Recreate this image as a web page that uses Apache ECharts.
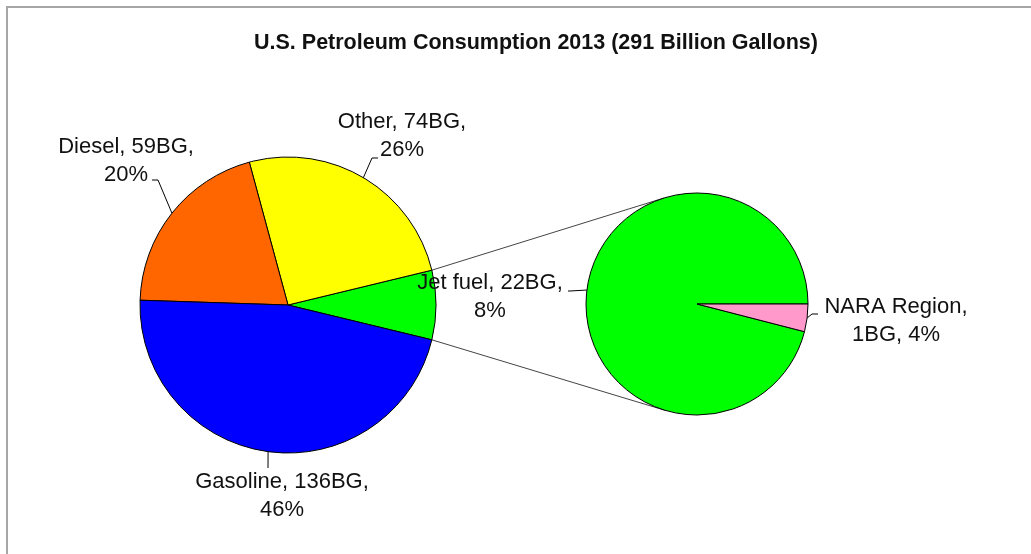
<!DOCTYPE html>
<html><head><meta charset="utf-8">
<script src="https://cdn.jsdelivr.net/npm/echarts@6/dist/echarts.min.js"></script>
<style>html,body{margin:0;padding:0;background:#fff}#chart{width:1031px;height:554px}</style>
</head><body><div id="chart"></div>
<script>
// ---- data ----
const titleText = 'U.S. Petroleum Consumption 2013 (291 Billion Gallons)';
const mainNames = ['Jet fuel', 'Other', 'Diesel', 'Gasoline'];
const mainValues = [22, 74, 59, 136];
const mainLabels = ['', 'Other, 74BG,\n26%', 'Diesel, 59BG,\n20%', 'Gasoline, 136BG,\n46%'];
const subNames = ['Jet fuel', 'NARA Region'];
const subValues = [22, 0.92];
const subLabels = ['Jet fuel, 22BG,\n8%', 'NARA Region,\n1BG, 4%'];

// ---- style / layout ----
const mainColors = ['#00FF00', '#FFFF00', '#FF6600', '#0000FF'];
const subColors = ['#00FF00', '#FF99CC'];
const MAIN = {cx: 288, cy: 305, r: 148};
const SUB = {cx: 697, cy: 304, r: 111};
const FONT = '"Liberation Sans", Arial, Helvetica, sans-serif';
// label block centers and leader-line points near the label
const mainLabelPos = [null, [402, 136], [126, 161], [282, 496]];
const mainLeader = [null, [[372, 158], [378, 158]], [[158, 180], [152, 180]], [[268, 468], [268, 468]]];
const subLabelPos = [[490, 297], [896, 321]];
const subLeader = [[[570, 291], [568, 291]], [[812, 314], [818, 314]]];

const sum = a => a.reduce((s, v) => s + v, 0);
const mainStart = -mainValues[0] / sum(mainValues) * 180;
const subStart = 0;
function midAngles(values, start) {
  const tot = sum(values); let a = start;
  return values.map(v => { const span = v / tot * 360; const m = a + span / 2; a += span; return m; });
}
function edgePt(c, deg) {
  const t = deg * Math.PI / 180;
  return [c.cx + c.r * Math.cos(t), c.cy - c.r * Math.sin(t)];
}
const mainMid = midAngles(mainValues, mainStart);
const subMid = midAngles(subValues, subStart);

// connector (series) lines from split slice edges to tangents of second pie
function tangent(P, C, upper) {
  const dx = P[0] - C.cx, dy = P[1] - C.cy;
  const d = Math.sqrt(dx * dx + dy * dy);
  const th = Math.atan2(dy, dx), al = Math.acos(C.r / d);
  const a = upper ? th + al : th - al;
  return [C.cx + C.r * Math.cos(a), C.cy + C.r * Math.sin(a)];
}
const jetSpan = mainValues[0] / sum(mainValues) * 360;
const pTop = edgePt(MAIN, mainStart + jetSpan);
const pBot = edgePt(MAIN, mainStart);
const tTop = tangent(pTop, SUB, true);
const tBot = tangent(pBot, SUB, false);

const labelBase = {
  show: true, position: 'outside', fontSize: 22, lineHeight: 28,
  color: '#111', fontFamily: FONT, align: 'center'
};
const lineBase = {show: true, length: 10, length2: 6, lineStyle: {color: '#000', width: 1}};

const chart = echarts.init(document.getElementById('chart'), null, {renderer: 'canvas'});
chart.setOption({
  animation: false,
  backgroundColor: '#fff',
  title: {
    text: titleText, left: 254, top: 32, padding: 0,
    textStyle: {fontSize: 21.5, fontWeight: 'bold', color: '#111', fontFamily: FONT}
  },
  graphic: [
    {type: 'rect', shape: {x: 7, y: 7, width: 1200, height: 700}, style: {fill: 'none', stroke: '#a6a6a6', lineWidth: 2}, silent: true, z: 0},
    {type: 'line', shape: {x1: pTop[0], y1: pTop[1], x2: tTop[0], y2: tTop[1]}, style: {stroke: '#444', lineWidth: 1}, silent: true, z: 1},
    {type: 'line', shape: {x1: pBot[0], y1: pBot[1], x2: tBot[0], y2: tBot[1]}, style: {stroke: '#444', lineWidth: 1}, silent: true, z: 1}
  ],
  series: [
    {
      type: 'pie', center: [MAIN.cx, MAIN.cy], radius: MAIN.r,
      startAngle: mainStart, clockwise: false, avoidLabelOverlap: false,
      minShowLabelAngle: 0, silent: true,
      itemStyle: {borderColor: '#000', borderWidth: 1},
      emphasis: {disabled: true},
      label: Object.assign({}, labelBase, {formatter: p => mainLabels[p.dataIndex]}),
      labelLine: lineBase,
      labelLayout: function (p) {
        const i = p.dataIndex;
        if (!mainLabelPos[i]) return {};
        const e = edgePt(MAIN, mainMid[i]);
        return {
          x: mainLabelPos[i][0], y: mainLabelPos[i][1], align: 'center', verticalAlign: 'middle',
          labelLinePoints: [e, mainLeader[i][0], mainLeader[i][1]]
        };
      },
      data: mainNames.map((n, i) => ({
        name: n, value: mainValues[i], itemStyle: {color: mainColors[i]},
        label: {show: i !== 0}, labelLine: {show: i !== 0}
      }))
    },
    {
      type: 'pie', center: [SUB.cx, SUB.cy], radius: SUB.r,
      startAngle: subStart, clockwise: false, avoidLabelOverlap: false,
      minShowLabelAngle: 0, silent: true,
      itemStyle: {borderColor: '#000', borderWidth: 1},
      emphasis: {disabled: true},
      label: Object.assign({}, labelBase, {formatter: p => subLabels[p.dataIndex]}),
      labelLine: lineBase,
      labelLayout: function (p) {
        const i = p.dataIndex;
        const e = edgePt(SUB, subMid[i]);
        return {
          x: subLabelPos[i][0], y: subLabelPos[i][1], align: 'center', verticalAlign: 'middle',
          labelLinePoints: [e, subLeader[i][0], subLeader[i][1]]
        };
      },
      data: subNames.map((n, i) => ({name: n, value: subValues[i], itemStyle: {color: subColors[i]}}))
    }
  ]
});
</script>
</body></html>
